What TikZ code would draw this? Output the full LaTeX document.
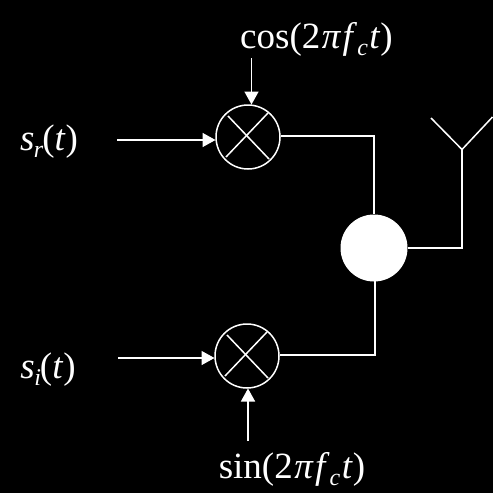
\documentclass[tikz,border=0pt]{standalone}
\usepackage{fontspec}
\setmainfont{Liberation Serif}
\usetikzlibrary{arrows.meta}
\newcommand{\tvar}[1]{\textit{#1}}
\newcommand{\lpi}{\textit{π}}
\tikzset{
  wire/.style={draw=white,line width=1.5pt},
  feed/.style={wire,-{Triangle[length=13pt,width=14pt,fill=white]},shorten >=0pt},
  mixer/.style={circle,draw=white,line width=1.5pt,minimum size=64pt,inner sep=0pt},
  adder/.style={circle,fill=white,minimum size=67pt,inner sep=0pt},
  lab/.style={text=white,font=\fontsize{37}{37}\selectfont,inner sep=0pt,anchor=base}
}
\newcommand{\subs}[1]{\raisebox{-7pt}{\fontsize{24}{24}\selectfont\textit{#1}}}
\begin{document}
\begin{tikzpicture}[x=1pt,y=-1pt]
\fill[black] (0,0) rectangle (493,493);
\useasboundingbox (0,0) rectangle (493,493);
\node[mixer] (m1) at (248,137) {};
\node[mixer] (m2) at (247,356) {};
\node[adder] (add) at (374,248) {};
\node[lab] (cosl) at (316.5,48) {cos(2\kern1.5pt\lpi\kern1.5pt\tvar{f}\subs{c}\kern1.5pt\tvar{t})};
\node[lab] (sinl) at (292,478) {sin(2\kern1.5pt\lpi\kern1.5pt\tvar{f}\subs{c}\kern1.5pt\tvar{t})};
\node[lab] (srl) at (49,150) {\tvar{s}\kern-0.5pt\subs{r}\kern-1pt(\tvar{t})};
\node[lab] (sil) at (48,378) {\tvar{s}\kern-0.5pt\subs{i}\kern-1pt(\tvar{t})};
% free ends
\coordinate (c1) at (251.5,58);
\coordinate (c1e) at (251.5,104.5);
\coordinate (c2) at (248,441);
\coordinate (c2e) at (248,388.5);
\coordinate (s1) at (117,140);
\coordinate (s1e) at (215.5,140);
\coordinate (s2) at (118,358);
\coordinate (s2e) at (214.5,358);
\coordinate (ant) at (462,149.5);
\coordinate (antl) at (431,118);
\coordinate (antr) at (492.5,117);
\draw[feed] (c1) -- (c1e);
\draw[feed] (c2) -- (c2e);
\draw[feed] (s1) -- (s1e);
\draw[feed] (s2) -- (s2e);
\draw[wire] (m1.east |- 0,136) -- (374,136) -- (add.north);
\draw[wire] (m2.east |- 0,355) -- (375,355) -- (375,281);
\draw[wire] (add.east) -- (ant |- add.east) -- (ant);
\draw[wire] (antl) -- (ant) -- (antr);
\draw[wire] (228,116) -- (269,159);
\draw[wire] (268,113) -- (226,157);
\draw[wire] (227,335) -- (268,378);
\draw[wire] (267,332) -- (225,376);
\end{tikzpicture}
\end{document}
